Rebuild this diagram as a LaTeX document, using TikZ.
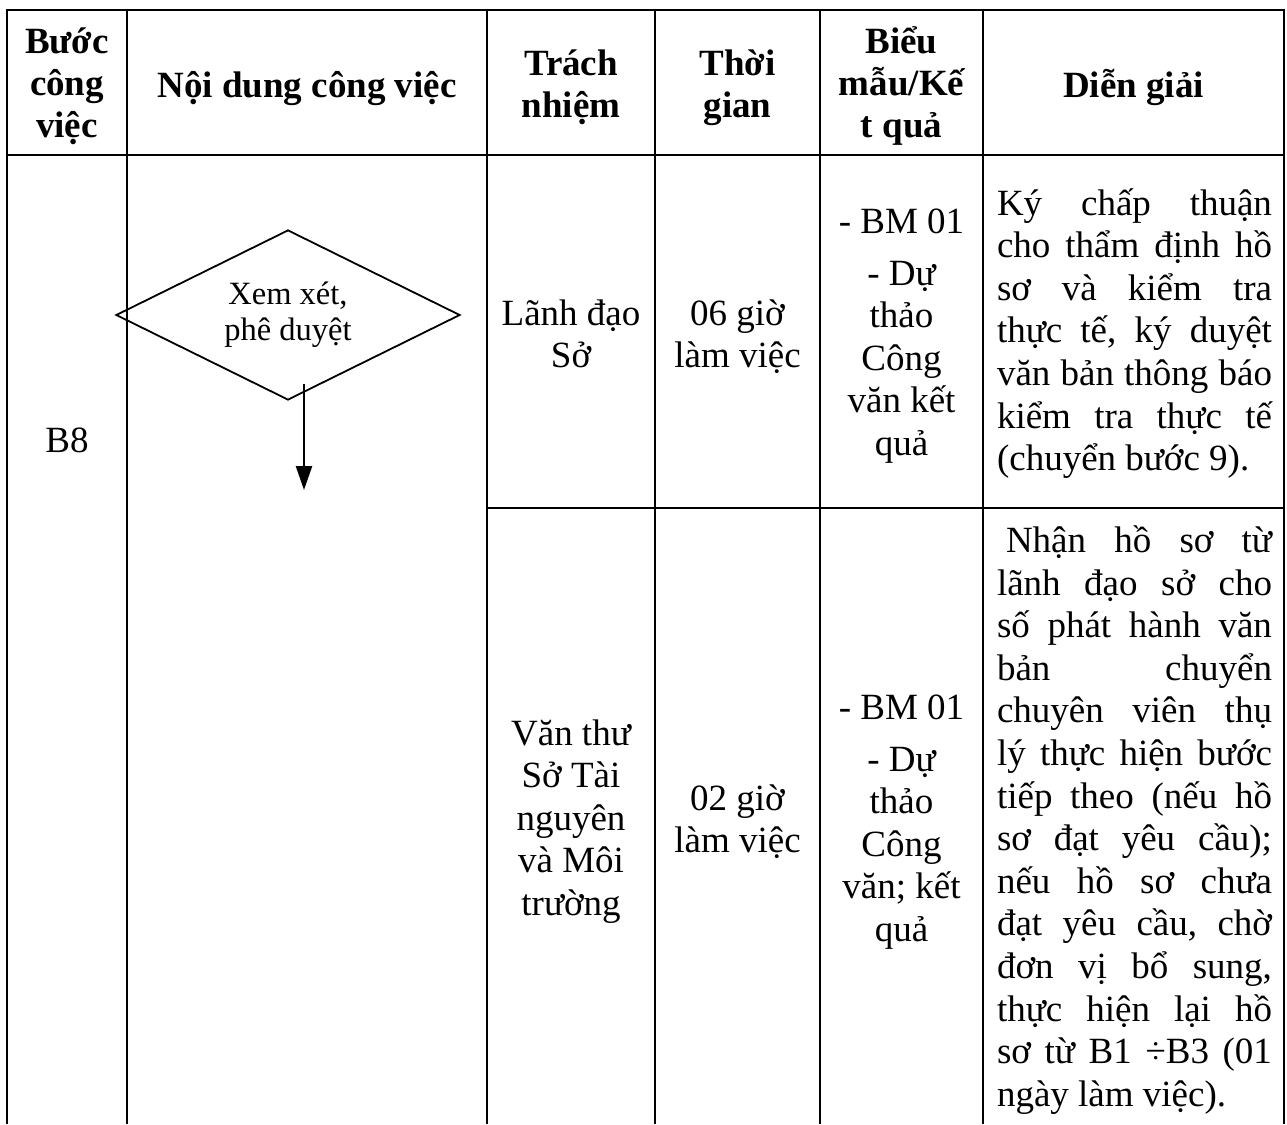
\documentclass[tikz,border=0pt]{standalone}
\usepackage{fontspec}
\setmainfont{Liberation Serif}
\usetikzlibrary{shapes.geometric,arrows.meta}
\newcommand\bodyfs{\fontsize{37}{42.6}\selectfont\lineskiplimit=-100pt}
\newcommand\headfs{\fontsize{37}{42}\selectfont\bfseries\lineskiplimit=-100pt}
\newcommand\jl[1]{\hbox to 275pt{#1}}
\newcommand\headcell[2]{\parbox[t]{#1}{\headfs\centering #2}}
\newcommand\bodycell[2]{\parbox[t]{#1}{\bodyfs\centering #2}}
\begin{document}
\begin{tikzpicture}[x=1pt,y=-1pt,
  tline/.style={line width=2pt},
  txt/.style={inner sep=0pt,outer sep=0pt,anchor=base},
  decision/.style={draw,line width=1.8pt,diamond,aspect=2,inner sep=0pt,
    minimum width=344pt,minimum height=170pt,
    font={\fontsize{32.5}{36}\selectfont},align=center},
  flow/.style={line width=2.4pt,-{Triangle[length=24pt,width=16pt]}}]
\useasboundingbox (0,0) rectangle (1287,1124);
% table grid
\draw[tline] (7,10) -- (1284,10);
\draw[tline] (7,155) -- (1284,155);
\draw[tline] (487,508) -- (1284,508);
\foreach \xx in {7,127,487,655,820,983,1284}
  \draw[tline] (\xx,9) -- (\xx,1124);
% header
\node[txt] (h1) at (67,53) {\headcell{115pt}{Bước\\công\\việc}};
\node[txt] (h2) at (307,97) {\headcell{350pt}{Nội dung công việc}};
\node[txt] (h3) at (571,75) {\headcell{160pt}{Trách\\nhiệm}};
\node[txt] (h4) at (737.5,75) {\headcell{160pt}{Thời\\gian}};
\node[txt] (h5) at (901.5,53) {\headcell{160pt}{Biểu\\mẫu/Kế\\t quả}};
\node[txt] (h6) at (1133.5,97) {\headcell{290pt}{Diễn giải}};
% step
\node[txt] (b8) at (67,452) {\bodycell{110pt}{B8}};
% flow
\node[decision] (dia) at (288,315) {Xem xét,\\phê duyệt};
\coordinate (arrend) at (304,490);
\draw[flow] ([xshift=16pt,yshift=17pt]dia.south) -- (arrend);
% row 1
\node[txt] (r1c3) at (571,325) {\bodycell{160pt}{Lãnh đạo\\Sở}};
\node[txt] (r1c4) at (737.5,325) {\bodycell{160pt}{06 giờ\\làm việc}};
\node[txt] (r1c5) at (901.5,233) {\bodycell{160pt}{- BM 01\\[9.4pt]- Dự\\thảo\\Công\\văn kết\\quả}};
\node[txt,anchor=base west] (r1c6) at (997,215) {\parbox[t]{275pt}{\bodyfs
  \jl{Ký\hfill chấp\hfill thuận}
  \jl{cho\hfill thẩm\hfill định\hfill hồ}
  \jl{sơ\hfill và\hfill kiểm\hfill tra}
  \jl{thực\hfill tế,\hfill ký\hfill duyệt}
  \jl{văn\hfill bản\hfill thông\hfill báo}
  \jl{kiểm\hfill tra\hfill thực\hfill tế}
  \jl{(chuyển bước 9).\hfil}}};
% row 2
\node[txt] (r2c3) at (571,745) {\bodycell{160pt}{Văn thư\\Sở Tài\\nguyên\\và Môi\\trường}};
\node[txt] (r2c4) at (737.5,810) {\bodycell{160pt}{02 giờ\\làm việc}};
\node[txt] (r2c5) at (901.5,719) {\bodycell{160pt}{- BM 01\\[9.4pt]- Dự\\thảo\\Công\\văn; kết\\quả}};
\node[txt,anchor=base west] (r2c6) at (997,552.5) {\parbox[t]{275pt}{\bodyfs
  \jl{\hspace{9pt}Nhận\hfill hồ\hfill sơ\hfill từ}
  \jl{lãnh\hfill đạo\hfill sở\hfill cho}
  \jl{số\hfill phát\hfill hành\hfill văn}
  \jl{bản\hfill chuyển}
  \jl{chuyên\hfill viên\hfill thụ}
  \jl{lý\hfill thực\hfill hiện\hfill bước}
  \jl{tiếp\hfill theo\hfill (nếu\hfill hồ}
  \jl{sơ\hfill đạt\hfill yêu\hfill cầu);}
  \jl{nếu\hfill hồ\hfill sơ\hfill chưa}
  \jl{đạt\hfill yêu\hfill cầu,\hfill chờ}
  \jl{đơn\hfill vị\hfill bổ\hfill sung,}
  \jl{thực\hfill hiện\hfill lại\hfill hồ}
  \jl{sơ\hfill từ\hfill B1\hfill ÷B3\hfill (01}
  \jl{ngày làm việc).\hfil}}};
\end{tikzpicture}
\end{document}
